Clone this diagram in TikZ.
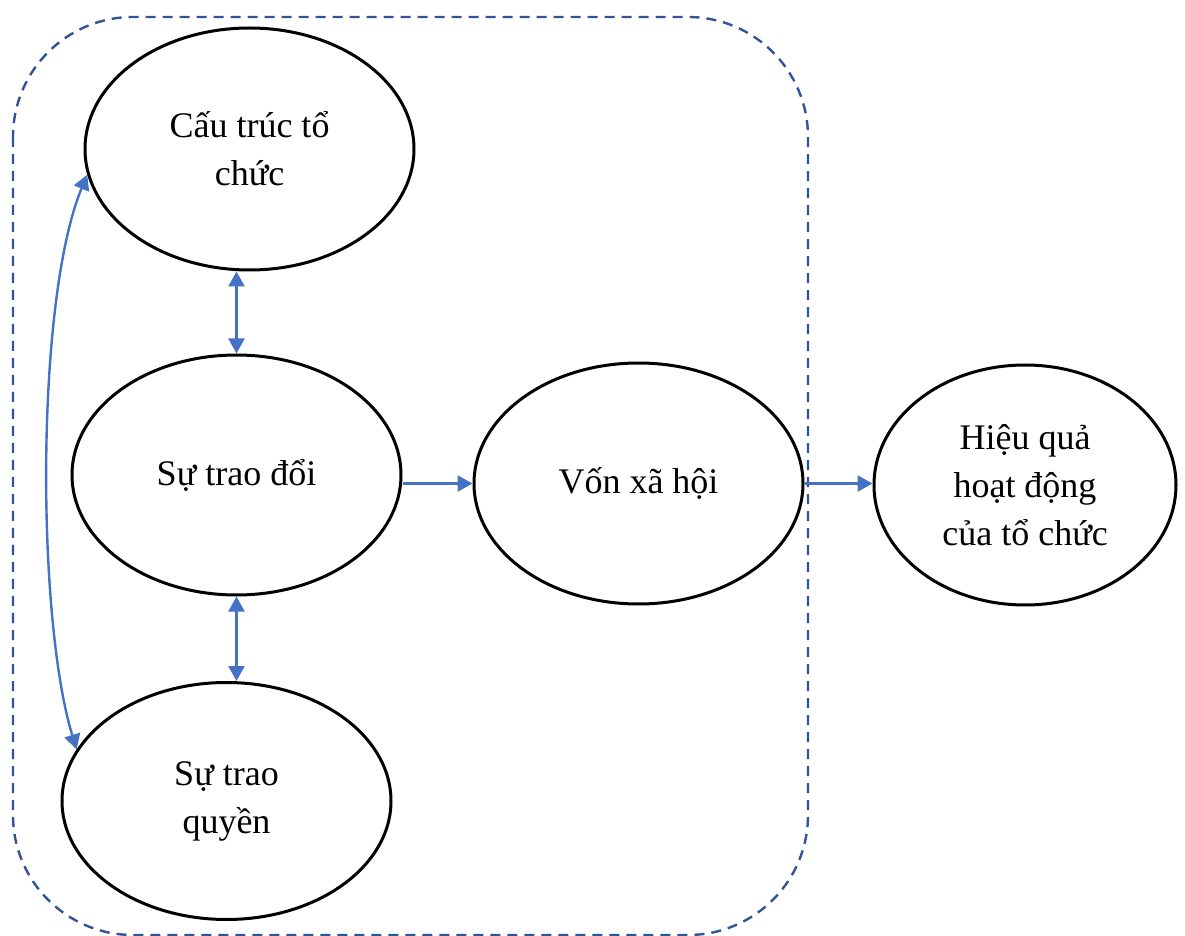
\documentclass[tikz,border=0pt]{standalone}
\usepackage{fontspec}
\setmainfont{Liberation Serif}
\usetikzlibrary{shapes.geometric,arrows.meta}
\definecolor{arrowblue}{HTML}{4472C4}
\definecolor{frameblue}{HTML}{2F5597}
\tikzset{
  concept/.style={ellipse, draw=black, line width=1.5pt, inner sep=0pt,
    align=center, font=\fontsize{18pt}{24pt}\selectfont},
  link/.style={draw=arrowblue, line width=1.2pt,
    -{Triangle[length=7.5pt,width=8pt]}},
  dlink/.style={draw=arrowblue, line width=1.2pt,
    {Triangle[length=7.5pt,width=8pt]}-{Triangle[length=7.5pt,width=8pt]}},
  frame/.style={draw=frameblue, line width=1.2pt, dash pattern=on 5pt off 3.5pt,
    rounded corners=60pt}
}
\begin{document}
\begin{tikzpicture}[x=0.5pt, y=-0.5pt]
  \useasboundingbox (0,0) rectangle (1185,936);
  % dashed frame around the group
  \draw[frame] (13,17) rectangle (808,935);
  % concepts (sizes in pt: half the drawing units)
  \node[concept, minimum width=164.5pt, minimum height=121pt] (cs) at (249.5,149) {Cấu trúc tổ\\chức};
  \node[concept, minimum width=164.5pt, minimum height=120pt] (sx) at (236.5,475) {Sự trao đổi};
  \node[concept, minimum width=164.5pt, minimum height=118.5pt] (sq) at (226.5,801) {Sự trao\\quyền};
  \node[concept, minimum width=164.5pt, minimum height=120.5pt] (vx) at (638.5,483.5) {Vốn xã hội};
  \node[concept, minimum width=151pt, minimum height=120pt] (hq) at (1025,485) {Hiệu quả\\hoạt động\\của tổ chức};
  % connectors
  \draw[dlink] (sx.north |- cs.south) -- (sx.north);
  \draw[dlink] (sx.south) -- (sx.south |- sq.north);
  \draw[link] (sx.east |- vx.west) -- (vx.west);
  \draw[link] (vx.east) -- (hq.west |- vx.east);
  \draw[dlink] (cs.189) .. controls +(-52,126) and +(-40,-130) .. (sq.161);
\end{tikzpicture}
\end{document}
